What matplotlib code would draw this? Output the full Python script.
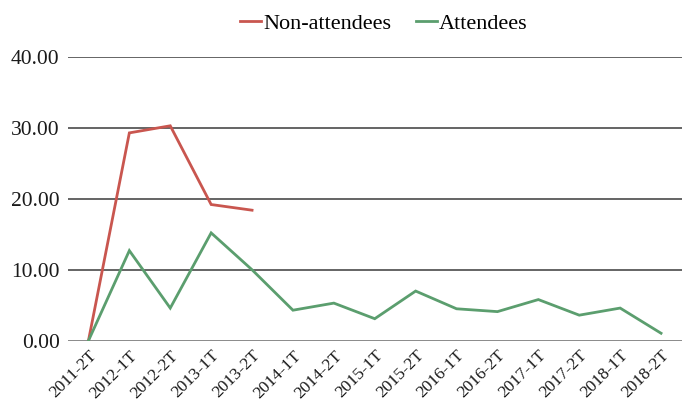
import matplotlib
matplotlib.use("Agg")
import matplotlib.pyplot as plt
import matplotlib.transforms as mtransforms

# Category labels (half-years)
periods = ["2011-2T", "2012-1T", "2012-2T", "2013-1T", "2013-2T", "2014-1T",
           "2014-2T", "2015-1T", "2015-2T", "2016-1T", "2016-2T", "2017-1T",
           "2017-2T", "2018-1T", "2018-2T"]

# Series values
non_attendees = [0.0, 29.3, 30.3, 19.2, 18.4]
attendees = [0.0, 12.7, 4.6, 15.2, 10.0, 4.3, 5.3, 3.1, 7.0, 4.5, 4.1, 5.8,
             3.6, 4.6, 1.05]

yticks = [0, 10, 20, 30, 40]

plt.rcParams['font.family'] = ['Liberation Serif', 'DejaVu Serif']

fig = plt.figure(figsize=(6.83, 4.01), dpi=100)
fig.patch.set_facecolor('white')
ax = fig.add_axes([68 / 683, 1 - 340.7 / 401, (681.5 - 68) / 683, (340.7 - 57) / 401])

x = list(range(len(periods)))
ax.plot(x[:len(non_attendees)], non_attendees, color='#c9564f', linewidth=2,
        label="Non-attendees", solid_joinstyle='miter', zorder=3)
ax.plot(x, attendees, color='#5b9e6e', linewidth=2, label="Attendees",
        solid_joinstyle='miter', zorder=3)

ax.set_xlim(-0.5, len(periods) - 0.5)
ax.set_ylim(0, 40)
ax.set_yticks(yticks)
ax.set_yticklabels([f"{v:.2f}" for v in yticks], fontsize=15.5)
for v in yticks[1:]:
    ax.axhline(v, color='#3a3a3a', linewidth=1.1, zorder=1)
ax.axhline(0, color='#808080', linewidth=2, zorder=2)

ax.set_xticks(x)
ax.set_xticklabels(periods, rotation=45, ha='right', rotation_mode='anchor', fontsize=12.5)
offset = mtransforms.ScaledTranslation(8 / 100, 0, fig.dpi_scale_trans)
for lbl in ax.get_xticklabels():
    lbl.set_transform(lbl.get_transform() + offset)

ax.tick_params(axis='x', length=0, pad=5, colors='#1a1a1a')
ax.tick_params(axis='y', length=0, pad=6, colors='#1a1a1a')
for s in ax.spines.values():
    s.set_visible(False)

leg = ax.legend(loc='center', bbox_to_anchor=(384 / 683, 1 - 24 / 401),
                bbox_transform=fig.transFigure, ncol=2, frameon=False,
                fontsize=16, handlelength=0.95, handletextpad=0.1, columnspacing=1.1)

fig.savefig("out.png", dpi=100, facecolor='white')
